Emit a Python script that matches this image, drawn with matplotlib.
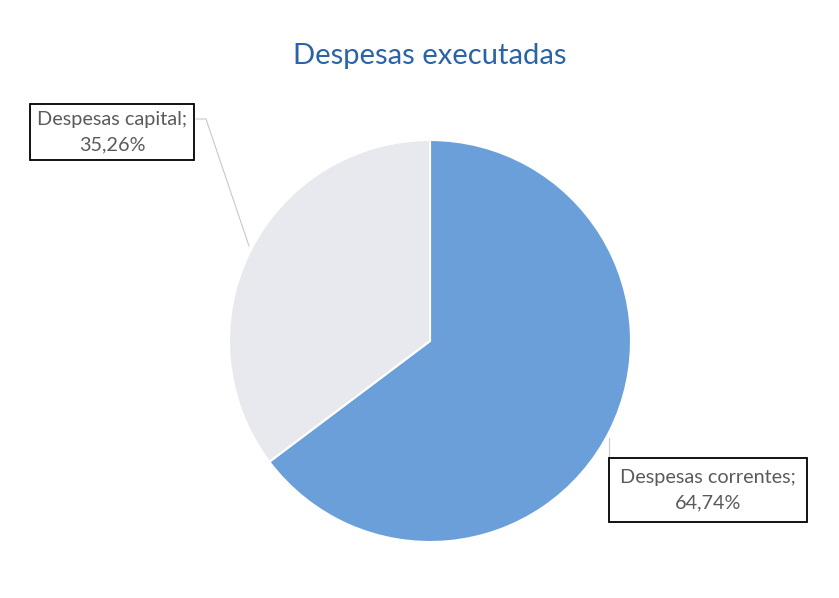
import matplotlib
matplotlib.use("Agg")
from matplotlib import pyplot as plt

# Data
categories = ["Despesas correntes", "Despesas capital"]
shares = [64.74, 35.26]
slice_colors = ["#6a9fd9", "#e8e9ee"]
title = "Despesas executadas"

W, H = 839, 598
plt.rcParams['font.family'] = ['Lato', 'DejaVu Sans']

fig = plt.figure(figsize=(W / 100, H / 100), dpi=100)
ax = fig.add_axes([0, 0, 1, 1])

cx, cy, r = 430, H - 341, 201
wedges, _ = ax.pie(shares, colors=slice_colors, startangle=90, counterclock=False,
                   center=(cx, cy), radius=r, frame=True,
                   wedgeprops=dict(edgecolor='white', linewidth=1.5))
ax.set_xlim(0, W)
ax.set_ylim(0, H)
ax.set_aspect('equal')
ax.axis('off')

def fmt(v):
    return f"{v:.2f}".replace('.', ',') + '%'

def box(pad):
    return dict(boxstyle=f'square,pad={pad}', facecolor='white', edgecolor='black', linewidth=1.3)

# Despesas capital label
ax.plot([196, 206, 249], [H - 119, H - 119, H - 246], color='#c8c8c8', lw=0.8)
ax.text(112, H - 132, f"{categories[1]};\n{fmt(shares[1])}", ha='center', va='center',
        fontsize=14.3, color='#5a5a5a', linespacing=1.6, bbox=box(0.35))

# Despesas correntes label
ax.plot([609, 609, 612], [H - 438, H - 488, H - 488], color='#c8c8c8', lw=0.8)
ax.text(708, H - 490, f"{categories[0]};\n{fmt(shares[0])}", ha='center', va='center',
        fontsize=14.3, color='#5a5a5a', linespacing=1.6, bbox=box(0.55))

ax.text(cx, H - 56, title, ha='center', va='center', fontsize=21, color='#2a63a8')

fig.savefig('out.png', dpi=100, facecolor='white')
